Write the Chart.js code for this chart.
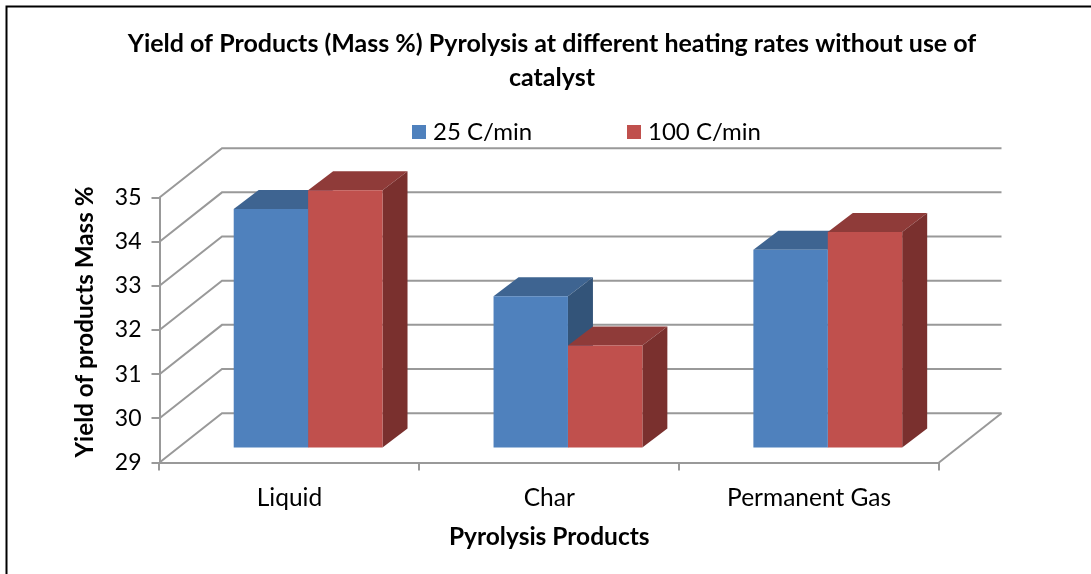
<!DOCTYPE html>
<html>
<head>
<meta charset="utf-8">
<style>html,body{margin:0;padding:0;background:#fff}canvas{display:block}</style>
<script src="https://cdn.jsdelivr.net/npm/chart.js@4"></script>
</head>
<body>
<canvas id="c" width="1091" height="574"></canvas>
<script>
const categories = ['Liquid', 'Char', 'Permanent Gas'];
const rate25 = [34.42, 32.45, 33.5];
const rate100 = [34.85, 31.33, 33.9];
const seriesNames = ['25 C/min', '100 C/min'];
const titleLines = ['Yield of Products (Mass %) Pyrolysis at different heating rates without use of', 'catalyst'];
const xTitle = 'Pyrolysis Products';
const yTitle = 'Yield of products Mass %';
const axisFloor = 29;
const axisCeil = 35;

const FONT = 'Lato';
const GRID = '#999999';
const GRID_W = 2;
const wall = {dx: 62.5, dy: -49.3};
const barPlane = {dx: 18.7, dy: -14};
const barDepth = {dx: 25, dy: -19};
const faces = [
  {front: '#4F81BD', top: '#3E6491', side: '#335479'},
  {front: '#C0504D', top: '#8F3B39', side: '#7A302E'}
];

function poly(ctx, pts, fill) {
  ctx.beginPath();
  pts.forEach((p, i) => i ? ctx.lineTo(p[0], p[1]) : ctx.moveTo(p[0], p[1]));
  ctx.closePath();
  ctx.fillStyle = fill;
  ctx.fill();
}

const scene = {
  id: 'scene',
  afterLayout(chart) {
    chart.titleBlock.left += 82.5;
    chart.titleBlock.right += 82.5;
    const y = chart.scales.y, base = y.drawTitle;
    y.drawTitle = function () {
      chart.ctx.save();
      chart.ctx.translate(0, -8);
      base.call(this);
      chart.ctx.restore();
    };
  },
  beforeDraw(chart) {
    const ctx = chart.ctx;
    ctx.save();
    ctx.strokeStyle = '#000';
    ctx.lineWidth = 2;
    ctx.beginPath();
    ctx.moveTo(6.5, 574);
    ctx.lineTo(6.5, 6.5);
    ctx.lineTo(1091, 6.5);
    ctx.stroke();
    ctx.restore();
  },
  beforeDatasetsDraw(chart) {
    const ctx = chart.ctx, y = chart.scales.y, a = chart.chartArea;
    ctx.save();
    ctx.strokeStyle = GRID;
    ctx.lineWidth = GRID_W;
    y.ticks.forEach(t => {
      const py = y.getPixelForValue(t.value);
      ctx.beginPath();
      ctx.moveTo(a.left, py);
      ctx.lineTo(a.left + wall.dx, py + wall.dy);
      ctx.lineTo(a.right + wall.dx, py + wall.dy);
      ctx.stroke();
    });
    ctx.beginPath();
    ctx.moveTo(a.right, a.bottom);
    ctx.lineTo(a.right + wall.dx, a.bottom + wall.dy);
    ctx.stroke();
    // depth faces, first series first so the second overlaps it
    [0, 1].forEach(d => {
      chart.getDatasetMeta(d).data.forEach(b => {
        const p = b.getProps(['x', 'y', 'base', 'width'], true);
        const l = p.x - p.width / 2 + barPlane.dx, r = p.x + p.width / 2 + barPlane.dx;
        const t = p.y + barPlane.dy, bt = p.base + barPlane.dy;
        const ex = barDepth.dx, ey = barDepth.dy;
        poly(ctx, [[l, t], [r, t], [r + ex, t + ey], [l + ex, t + ey]], faces[d].top);
        poly(ctx, [[r, t], [r + ex, t + ey], [r + ex, bt + ey], [r, bt]], faces[d].side);
      });
    });
    ctx.translate(barPlane.dx, barPlane.dy);
  },
  afterDatasetsDraw(chart) {
    chart.ctx.restore();
  },
  afterDraw(chart) {
    // legend row
    const ctx = chart.ctx;
    const spots = [{box: 412, text: 433}, {box: 627, text: 648}];
    ctx.save();
    ctx.font = '24px ' + FONT;
    ctx.textBaseline = 'middle';
    ctx.textAlign = 'left';
    spots.forEach((s, i) => {
      ctx.fillStyle = faces[i].front;
      ctx.fillRect(s.box, 125, 14, 14);
      ctx.fillStyle = '#000';
      ctx.fillText(chart.data.datasets[i].label, s.text, 132);
    });
    ctx.restore();
  }
};

new Chart(document.getElementById('c'), {
  type: 'bar',
  data: {
    labels: categories,
    datasets: [
      {label: seriesNames[0], data: rate25, base: axisFloor, backgroundColor: faces[0].front},
      {label: seriesNames[1], data: rate100, base: axisFloor, backgroundColor: faces[1].front}
    ]
  },
  options: {
    responsive: false,
    animation: false,
    categoryPercentage: 0.5727,
    barPercentage: 1,
    layout: {padding: {top: 27, left: 0, right: 152, bottom: 0}},
    plugins: {
      legend: {display: false},
      tooltip: {enabled: false},
      title: {
        display: true,
        text: titleLines,
        color: '#000',
        font: {family: FONT, weight: 'bold', size: 25, lineHeight: 1.36},
        padding: {top: 0, bottom: 102.5}
      }
    },
    scales: {
      x: {
        afterFit(s) { s.height = 111.5; },
        grid: {drawOnChartArea: false, color: GRID, lineWidth: GRID_W, tickLength: 8},
        border: {color: GRID, width: GRID_W},
        ticks: {color: '#000', padding: 13, font: {family: FONT, size: 24.5}},
        title: {display: true, text: xTitle, color: '#000', padding: {top: 0, bottom: 22},
                font: {family: FONT, weight: 'bold', size: 24.5}}
      },
      y: {
        min: axisFloor,
        max: axisCeil,
        afterFit(s) { s.width = 159.5; },
        grid: {drawOnChartArea: false, color: GRID, lineWidth: GRID_W, tickLength: 8},
        border: {color: GRID, width: GRID_W},
        ticks: {stepSize: 1, color: '#000', padding: 10, font: {family: FONT, size: 23}},
        title: {display: true, text: yTitle, color: '#000', padding: {top: 71, bottom: 0},
                font: {family: FONT, weight: 'bold', size: 24.2}}
      }
    }
  },
  plugins: [scene]
});
</script>
</body>
</html>
